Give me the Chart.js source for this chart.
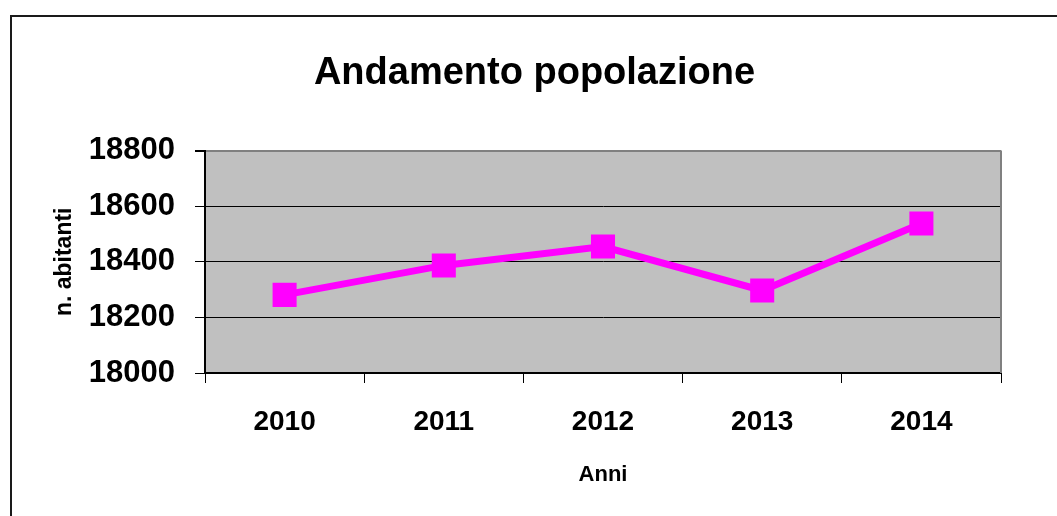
<!DOCTYPE html>
<html lang="it">
<head>
    <meta charset="UTF-8">
    <title>Andamento popolazione</title>
    <script src="https://cdn.jsdelivr.net/npm/chart.js@4.4.0/dist/chart.umd.min.js"></script>
    <style>
        html, body { margin: 0; padding: 0; background: #fff; }
    </style>
</head>
<body>
    <canvas id="myChart" width="1057" height="516"></canvas>

    <script>
        'use strict';

        // dati
        const anni = ['2010', '2011', '2012', '2013', '2014'];
        const abitanti = [18281, 18387, 18455, 18297, 18538];
        const yMin = 18000;
        const yMax = 18800;
        const yStep = 200;

        const FONT = "'Liberation Sans', Arial, sans-serif";

        // sfondo grigio dell'area del grafico + cornice esterna
        const sfondo = {
            id: 'sfondo',
            beforeDraw(chart) {
                const { ctx, chartArea: { left, top, right, bottom } } = chart;
                ctx.save();
                ctx.fillStyle = '#ffffff';
                ctx.fillRect(0, 0, chart.width, chart.height);
                ctx.fillStyle = '#c0c0c0';
                ctx.fillRect(left, top, right - left, bottom - top);
                ctx.strokeStyle = '#1a1a1a';
                ctx.lineWidth = 2;
                ctx.beginPath();
                ctx.moveTo(11, chart.height + 2);
                ctx.lineTo(11, 16);
                ctx.lineTo(chart.width + 2, 16);
                ctx.stroke();
                ctx.restore();
            },
            beforeDatasetsDraw(chart) {
                const { ctx, chartArea: { top, right, bottom } } = chart;
                ctx.save();
                ctx.strokeStyle = '#808080';
                ctx.lineWidth = 2;
                ctx.beginPath();
                ctx.moveTo(right, top);
                ctx.lineTo(right, bottom);
                ctx.stroke();
                ctx.restore();
            }
        };

        const ctx = document.getElementById('myChart').getContext('2d');
        const myChart = new Chart(ctx, {
            type: 'line',
            data: {
                labels: anni,
                datasets: [{
                    label: 'n. abitanti',
                    data: abitanti,
                    borderColor: '#ff00ff',
                    backgroundColor: '#ff00ff',
                    borderWidth: 7,
                    pointStyle: 'rect',
                    pointRadius: 17,
                    pointHoverRadius: 17,
                    pointBorderWidth: 0,
                    tension: 0
                }]
            },
            options: {
                responsive: false,
                animation: false,
                devicePixelRatio: 1,
                layout: {
                    padding: { left: 68, right: 56, top: 0, bottom: 0 }
                },
                plugins: {
                    legend: { display: false },
                    tooltip: { enabled: false },
                    title: {
                        display: true,
                        text: 'Andamento popolazione',
                        color: '#000',
                        font: { family: FONT, size: 38, weight: 'bold', lineHeight: 1.2 },
                        padding: { top: 51, bottom: 54 }
                    }
                },
                scales: {
                    x: {
                        offset: true,
                        grid: {
                            offset: true,
                            drawOnChartArea: false,
                            drawTicks: true,
                            tickLength: 10,
                            color: '#000'
                        },
                        border: { color: '#000', width: 2 },
                        ticks: {
                            color: '#000',
                            padding: 22,
                            font: { family: FONT, size: 28, weight: 'bold', lineHeight: 1.2 }
                        },
                        title: {
                            display: true,
                            text: 'Anni',
                            color: '#000',
                            font: { family: FONT, size: 22, weight: 'bold', lineHeight: 1.2 },
                            padding: { top: 0, bottom: 28 }
                        },
                        afterFit(scale) { scale.height = 143; }
                    },
                    y: {
                        min: yMin,
                        max: yMax,
                        grid: {
                            color: (c) => (c.tick && c.tick.value === yMax ? '#808080' : '#000'),
                            lineWidth: (c) => (c.tick && c.tick.value === yMax ? 2 : 1),
                            tickColor: '#000',
                            tickLength: 10
                        },
                        border: { color: '#000', width: 2 },
                        ticks: {
                            stepSize: yStep,
                            color: '#000',
                            padding: 20,
                            font: { family: FONT, size: 31, weight: 'bold', lineHeight: 1.2 },
                            callback: (v) => String(v)
                        },
                        title: {
                            display: true,
                            text: 'n. abitanti',
                            color: '#000',
                            font: { family: FONT, size: 23, weight: 'bold', lineHeight: 1.2 },
                            padding: { top: -17, bottom: 0 }
                        },
                        afterFit(scale) { scale.width = 137; }
                    }
                }
            },
            plugins: [sfondo]
        });
    </script>
</body>
</html>
